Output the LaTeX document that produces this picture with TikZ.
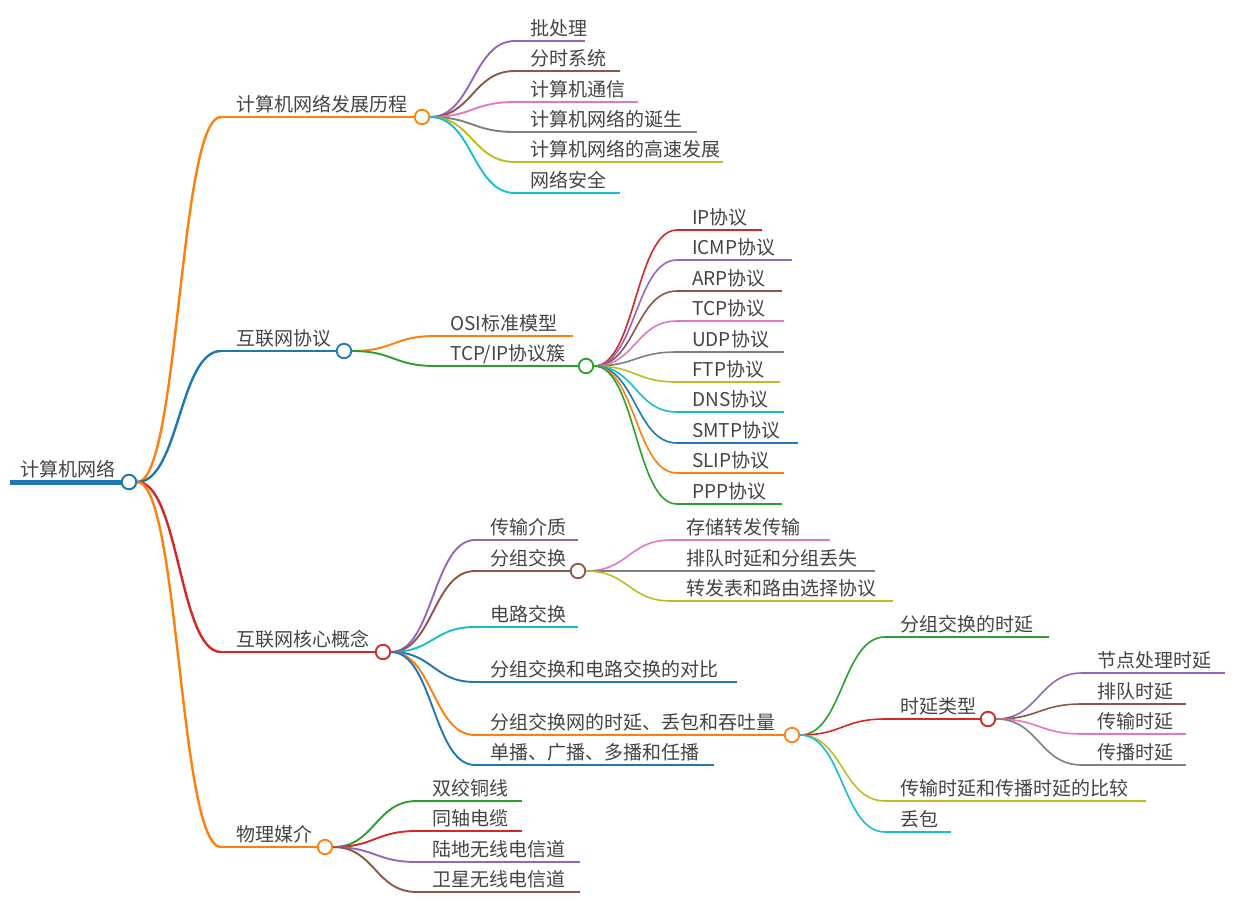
\documentclass[tikz,border=0pt]{standalone}
\usepackage{fontspec}
\setmainfont{Noto Sans CJK SC}
\usetikzlibrary{calc}
\definecolor{cblue}{HTML}{1F77B4}
\definecolor{corange}{HTML}{FF7F0E}
\definecolor{cgreen}{HTML}{2CA02C}
\definecolor{cred}{HTML}{D62728}
\definecolor{cpurple}{HTML}{9467BD}
\definecolor{cbrown}{HTML}{8C564B}
\definecolor{cpink}{HTML}{E377C2}
\definecolor{cgray}{HTML}{7F7F7F}
\definecolor{colive}{HTML}{BCBD22}
\definecolor{ccyan}{HTML}{17BECF}
\definecolor{txt}{HTML}{444444}
% link from parent circle to child underline start
\newcommand\mmlink[3]{\draw[#3] let \p1=(#1.east), \p2=(#2) in (\p1) .. controls ({(\x1+\x2)/2},\y1) and ({(\x1+\x2)/2},\y2) .. (\p2);}
% leaf: name, parent, style, text x, underline y, end x, text
\newcommand\mmleaf[7]{%
  \coordinate (#1s) at (#4-15,#5);
  \coordinate (#1e) at (#6,#5);
  \node[lbl] (#1) at (#4,#5-6) {#7};
  \mmlink{#2}{#1s}{#3}
  \draw[#3] (#1s) -- (#1e);
}
% branch: name, parent, style, text x, underline y, circle x, text
\newcommand\mmbranch[7]{%
  \coordinate (#1s) at (#4-15,#5);
  \node[lbl] (#1t) at (#4,#5-6) {#7};
  \node[dot,#3,line width=1.8pt,fill=white] (#1) at (#6,#5) {};
  \mmlink{#2}{#1s}{#3}
  \draw[#3] (#1s) -- (#1.west);
}
\begin{document}
\begin{tikzpicture}[x=1pt,y=-1pt,
  lbl/.style={anchor=base west,inner sep=0pt,text=txt,font=\fontsize{19}{19}\selectfont},
  dot/.style={circle,draw,fill=white,minimum size=14.5pt,inner sep=0pt},
  w1/.style={line width=2.4pt},
  w2/.style={line width=1.9pt},
  w3/.style={line width=1.6pt}]
\useasboundingbox (0,0) rectangle (1246,918);
% root
\coordinate (roots) at (10,482);
\node[lbl] (roott) at (20,476) {计算机网络};
\draw[cblue,line width=5pt] (roots) -- (122,482);
\node[dot,cblue,line width=2pt,fill=white] (root) at (129,482) {};
% level 1
\mmbranch{h}{root}{corange,w1}{236}{117}{422}{计算机网络发展历程}
\mmbranch{p}{root}{cblue,w1}{236}{351}{344}{互联网协议}
\mmbranch{k}{root}{cred,w1}{236}{652}{383}{互联网核心概念}
\mmbranch{m}{root}{corange,w1}{236}{847}{325}{物理媒介}
% history
\mmleaf{h1}{h}{cpurple,w2}{530}{41}{585}{批处理}
\mmleaf{h2}{h}{cbrown,w2}{530}{71}{620}{分时系统}
\mmleaf{h3}{h}{cpink,w2}{530}{102}{638}{计算机通信}
\mmleaf{h4}{h}{cgray,w2}{530}{132}{697}{计算机网络的诞生}
\mmleaf{h5}{h}{colive,w2}{530}{162}{723}{计算机网络的高速发展}
\mmleaf{h6}{h}{ccyan,w2}{530}{193}{620}{网络安全}
% protocols
\mmleaf{p1}{p}{corange,w2}{450}{336}{573}{OSI标准模型}
\mmbranch{p2}{p}{cgreen,w2}{450}{366}{586}{TCP/IP协议簇}
\mmleaf{t1}{p2}{cred,w3}{692}{230}{762}{IP协议}
\mmleaf{t2}{p2}{cpurple,w3}{692}{260}{792}{ICMP协议}
\mmleaf{t3}{p2}{cbrown,w3}{692}{291}{782}{ARP协议}
\mmleaf{t4}{p2}{cpink,w3}{692}{321}{784}{TCP协议}
\mmleaf{t5}{p2}{cgray,w3}{692}{352}{784}{UDP协议}
\mmleaf{t6}{p2}{colive,w3}{692}{382}{780}{FTP协议}
\mmleaf{t7}{p2}{ccyan,w3}{692}{412}{784}{DNS协议}
\mmleaf{t8}{p2}{cblue,w3}{692}{443}{798}{SMTP协议}
\mmleaf{t9}{p2}{corange,w3}{692}{473}{784}{SLIP协议}
\mmleaf{t10}{p2}{cgreen,w3}{692}{504}{782}{PPP协议}
% core concepts
\mmleaf{k1}{k}{cpurple,w2}{490}{540}{578}{传输介质}
\mmbranch{k2}{k}{cbrown,w2}{490}{571}{578}{分组交换}
\mmleaf{k3}{k}{ccyan,w2}{490}{627}{578}{电路交换}
\mmleaf{k4}{k}{cblue,w2}{490}{682}{737}{分组交换和电路交换的对比}
\mmbranch{k5}{k}{corange,w2}{490}{735}{792}{分组交换网的时延、丢包和吞吐量}
\mmleaf{k6}{k}{cblue,w2}{490}{765}{714}{单播、广播、多播和任播}
\mmleaf{s1}{k2}{cpink,w3}{686}{540}{830}{存储转发传输}
\mmleaf{s2}{k2}{cgray,w3}{686}{571}{875}{排队时延和分组丢失}
\mmleaf{s3}{k2}{colive,w3}{686}{601}{893}{转发表和路由选择协议}
\mmleaf{d1}{k5}{cgreen,w3}{900}{637}{1049}{分组交换的时延}
\mmbranch{d2}{k5}{cred,w3}{900}{719}{988}{时延类型}
\mmleaf{d3}{k5}{colive,w3}{900}{801}{1146}{传输时延和传播时延的比较}
\mmleaf{d4}{k5}{ccyan,w3}{900}{832}{951}{丢包}
\mmleaf{y1}{d2}{cpurple,w3}{1097}{673}{1225}{节点处理时延}
\mmleaf{y2}{d2}{cbrown,w3}{1097}{704}{1186}{排队时延}
\mmleaf{y3}{d2}{cpink,w3}{1097}{734}{1186}{传输时延}
\mmleaf{y4}{d2}{cgray,w3}{1097}{765}{1186}{传播时延}
% media
\mmleaf{m1}{m}{cgreen,w2}{432}{801}{522}{双绞铜线}
\mmleaf{m2}{m}{cred,w2}{432}{831}{522}{同轴电缆}
\mmleaf{m3}{m}{cpurple,w2}{432}{862}{580}{陆地无线电信道}
\mmleaf{m4}{m}{cbrown,w2}{432}{892}{580}{卫星无线电信道}
\end{tikzpicture}
\end{document}
